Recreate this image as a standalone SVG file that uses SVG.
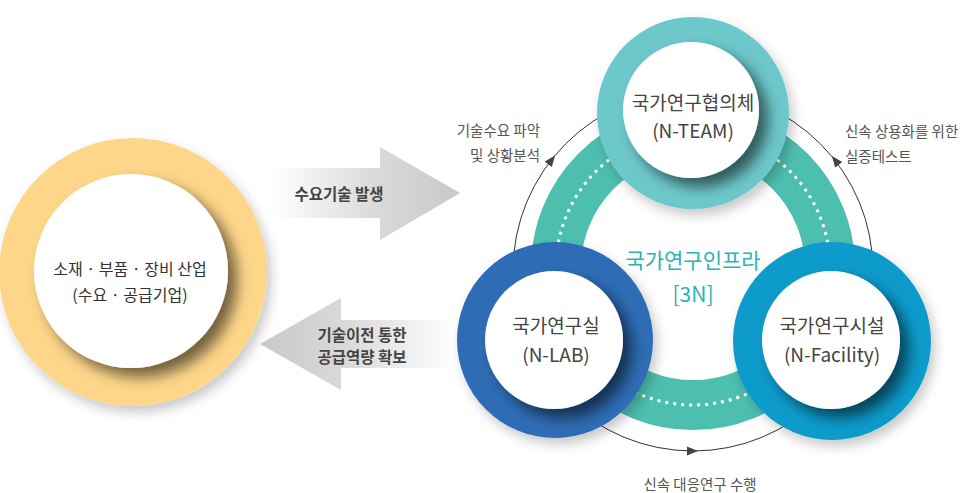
<svg xmlns="http://www.w3.org/2000/svg" width="964" height="493" viewBox="0 0 964 493">
<defs>
<style>
text{font-family:"Noto Sans CJK KR","Noto Sans",sans-serif;}
.node{font-size:19px;fill:#444;text-anchor:middle;}
.ind{font-size:16px;fill:#333;text-anchor:middle;}
.lbl{font-size:14.5px;fill:#555;}
.arw{font-size:15.5px;font-weight:bold;fill:#444;text-anchor:middle;}
.ctr{font-size:21px;fill:#2bb3b5;text-anchor:middle;}
.ah{fill:#444;}
.arc{fill:none;stroke:#333;stroke-width:1;}
</style>
<linearGradient id="gR" gradientUnits="userSpaceOnUse" x1="270" y1="0" x2="460" y2="0">
<stop offset="0" stop-color="#ffffff"/><stop offset="0.55" stop-color="#dadada"/><stop offset="1" stop-color="#c8c8c8"/>
</linearGradient>
<linearGradient id="gL" gradientUnits="userSpaceOnUse" x1="455" y1="0" x2="260" y2="0">
<stop offset="0" stop-color="#ffffff"/><stop offset="0.55" stop-color="#dadada"/><stop offset="1" stop-color="#c8c8c8"/>
</linearGradient>
<filter id="inS" x="-40%" y="-40%" width="180%" height="180%">
<feDropShadow dx="9" dy="9" stdDeviation="7" flood-color="#000" flood-opacity="0.55"/>
</filter>
<filter id="outS" x="-30%" y="-30%" width="160%" height="160%">
<feDropShadow dx="4" dy="6" stdDeviation="6" flood-color="#000" flood-opacity="0.22"/>
</filter>
<clipPath id="cInd"><circle cx="133" cy="272" r="134"/></clipPath>
<clipPath id="cTeam"><circle cx="693" cy="113" r="96"/></clipPath>
<clipPath id="cLab"><circle cx="555" cy="340" r="98"/></clipPath>
<clipPath id="cFac"><circle cx="832" cy="341" r="99"/></clipPath>
</defs>

<rect width="964" height="493" fill="#fff"/>

<g id="n-industry">
<circle cx="133" cy="272" r="134" fill="#fdd68a" filter="url(#outS)"/>
<g clip-path="url(#cInd)"><circle cx="131" cy="271" r="97" fill="#fff" filter="url(#inS)"/></g>
<text class="ind" x="130" y="275">소재 · 부품 · 장비 산업</text>
<text class="ind" x="130" y="301">(수요 · 공급기업)</text>
</g>

<g id="connectors">
<g id="flow-demand">
<polygon points="272,168 380,168 380,147 460,193 380,240 380,218 272,218" fill="url(#gR)"/>
<text class="arw" x="339" y="200">수요기술 발생</text>
</g>
<g id="flow-supply">
<polygon points="450,320 341,320 341,298 260,344 341,390 341,368 450,368" fill="url(#gL)"/>
<text class="arw" x="362" y="341">기술이전 통한</text>
<text class="arw" x="362" y="363">공급역량 확보</text>
</g>
<circle class="arc" cx="693" cy="271" r="180"/>
<polygon class="ah" points="5,0 -6,-4.5 -6,4.5" transform="translate(552,159.5) rotate(-51.6)"/>
<polygon class="ah" points="5,0 -6,-4.5 -6,4.5" transform="translate(835,160) rotate(-128)"/>
<polygon class="ah" points="5,0 -6,-4.5 -6,4.5" transform="translate(693,451)"/>
</g>

<g id="n-infra">
<circle cx="693" cy="268" r="137" fill="none" stroke="#4dbfaf" stroke-width="50"/>
<circle cx="693" cy="268" r="137" fill="none" stroke="#fff" stroke-width="3" stroke-dasharray="3 5"/>
<text class="ctr" x="693" y="268">국가연구인프라</text>
<text class="ctr" x="693" y="302">[3N]</text>
</g>

<g id="n-team">
<circle cx="693" cy="113" r="96" fill="#6dc8cb" filter="url(#outS)"/>
<g clip-path="url(#cTeam)"><circle cx="691" cy="110" r="68" fill="#fff" filter="url(#inS)"/></g>
<text class="node" x="693" y="110">국가연구협의체</text>
<text class="node" x="693" y="138">(N-TEAM)</text>
</g>

<g id="n-lab">
<circle cx="555" cy="340" r="98" fill="#2f6db5" filter="url(#outS)"/>
<g clip-path="url(#cLab)"><circle cx="554" cy="340" r="69" fill="#fff" filter="url(#inS)"/></g>
<text class="node" x="556" y="333">국가연구실</text>
<text class="node" x="556" y="362">(N-LAB)</text>
</g>

<g id="n-facility">
<circle cx="832" cy="341" r="99" fill="#0b9bcb" filter="url(#outS)"/>
<g clip-path="url(#cFac)"><circle cx="831" cy="340" r="69" fill="#fff" filter="url(#inS)"/></g>
<text class="node" x="832" y="333">국가연구시설</text>
<text class="node" x="832" y="362">(N-Facility)</text>
</g>

<g id="labels">
<text class="lbl" x="540" y="136" text-anchor="end">기술수요 파악</text>
<text class="lbl" x="540" y="161" text-anchor="end">및 상황분석</text>
<text class="lbl" x="845" y="137">신속 상용화를 위한</text>
<text class="lbl" x="845" y="162">실증테스트</text>
<text class="lbl" x="700" y="490" text-anchor="middle" font-size="16">신속 대응연구 수행</text>
</g>
</svg>
